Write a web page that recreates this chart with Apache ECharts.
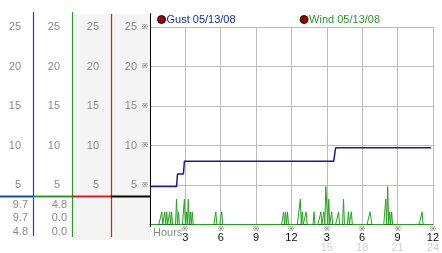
<!DOCTYPE html>
<html><head><meta charset="utf-8">
<script src="https://cdn.jsdelivr.net/npm/echarts@6/dist/echarts.min.js"></script>
<style>html,body{margin:0;padding:0;background:#fff}#c{width:442px;height:253px}</style>
</head><body><div id="c"></div>
<script>
// ---- data ----
const seriesNames = ['Gust 05/13/08', 'Wind 05/13/08'];
const yTicks = [0, 5, 10, 15, 20, 25];
const xTickHours = [0, 3, 6, 9, 12, 15, 18, 21, 24];
// Gust (minutes since midnight, value)
const gustMinutes = [0, 135, 140, 170, 175, 935, 945, 1430];
const gustValues  = [4.8, 4.8, 6.4, 6.4, 8.0, 8.0, 9.7, 9.7];
// Wind: non-zero 5-minute samples (minutes, value); all other samples are 0
const windMinutes = [60, 75, 85, 100, 110, 135, 145, 175, 185, 195, 205, 215, 335, 365,
  680, 690, 700, 765, 775, 795, 835, 870, 885, 895, 900, 910, 925, 960, 985, 1010, 1025,
  1120, 1125, 1195, 1200, 1210, 1220, 1230, 1385];
const windValues = [1.6, 1.6, 1.6, 1.6, 1.6, 3.2, 1.6, 3.2, 1.6, 3.2, 1.6, 1.6, 1.6, 1.6,
  1.6, 1.6, 1.6, 3.2, 1.6, 1.6, 1.6, 1.6, 1.6, 4.8, 4.8, 3.2, 1.6, 1.6, 3.2, 1.6, 1.6,
  1.6, 1.6, 1.6, 3.2, 4.8, 1.6, 1.6, 1.6];
const windSampleStep = 5, windLastMinute = 1435;
const gustStats = ['9.7', '9.7', '4.8'];
const windStats = ['4.8', '0.0', '0.0'];

// ---- build ----
const gustData = gustMinutes.map((m, i) => [m / 60, gustValues[i]]);
const windMap = {};
windMinutes.forEach((m, i) => { windMap[m] = windValues[i]; });
const windData = [];
for (let m = 0; m <= windLastMinute; m += windSampleStep) windData.push([m / 60, windMap[m] || 0]);

const FONT = 'Liberation Sans, Arial, sans-serif';
const GRAY = '#8a8a8a';
const BLUE = '#1646c8', GREEN = '#2a9a22', RED = '#d42020';

function sideAxis(offset) {
  return {
    type: 'value', min: yTicks[0], max: yTicks[yTicks.length - 1], interval: 5,
    position: 'left', offset: offset,
    axisLine: { show: false }, axisTick: { show: false }, splitLine: { show: false },
    axisLabel: { margin: 12, color: GRAY, fontFamily: FONT, fontSize: 11,
      formatter: v => v === 0 ? '' : String(v) }
  };
}

const chart = echarts.init(document.getElementById('c'), null, { renderer: 'canvas' });
chart.setOption({
  animation: false,
  backgroundColor: '#fff',
  grid: { left: 150, right: 4, top: 27, bottom: 26, containLabel: false },
  legend: {
    left: 157, top: 14, padding: 0, itemGap: 64, itemWidth: 8, itemHeight: 8, icon: 'circle',
    itemStyle: { color: '#a00000', borderColor: '#111', borderWidth: 1 },
    textStyle: { fontFamily: FONT, fontSize: 11, padding: [0, 0, 0, -4] },
    data: [
      { name: seriesNames[0], textStyle: { color: '#1b2fa0' } },
      { name: seriesNames[1], textStyle: { color: GREEN } }
    ]
  },
  xAxis: {
    type: 'value', min: 0, max: 24, interval: 3,
    axisLine: { show: true, lineStyle: { color: '#1f6a1f', width: 1 } },
    axisTick: { show: false },
    splitLine: { show: true, lineStyle: { color: '#bdbdbd', width: 1 } },
    axisLabel: {
      margin: 1, showMaxLabel: true, fontFamily: FONT,
      formatter: v => {
        if (v === 0) return '';
        if (v <= 12) return '{m|※}\n{b|' + v + '}';
        return '{m|※}\n{b|' + (v - 12) + '}\n{g|' + v + '}';
      },
      rich: {
        m: { fontSize: 7, lineHeight: 7, color: '#333', fontFamily: FONT },
        b: { fontSize: 11, lineHeight: 10, color: '#111', fontFamily: FONT },
        g: { fontSize: 11, lineHeight: 10, color: '#d0d0d0', fontFamily: FONT }
      }
    }
  },
  yAxis: [
    {
      type: 'value', min: 0, max: 25, interval: 5, position: 'left', offset: 0,
      axisLine: { show: true, lineStyle: { color: '#000', width: 1 } },
      axisTick: { show: false },
      splitLine: { show: true, lineStyle: { color: '#bdbdbd', width: 1 } },
      axisLabel: {
        margin: 2, fontFamily: FONT,
        formatter: v => v === 0 ? '' : '{v|' + v + '}{m|※}',
        rich: {
          v: { fontSize: 11, color: GRAY, fontFamily: FONT, padding: [0, 5, 0, 0] },
          m: { fontSize: 7, color: '#333', fontFamily: FONT }
        }
      }
    },
    sideAxis(39), sideAxis(78), sideAxis(117)
  ],
  graphic: [
    { type: 'rect', z: -10, shape: { x: 72, y: 14, width: 39, height: 226 }, style: { fill: '#f4f4f4' } },
    { type: 'rect', z: -10, shape: { x: 111, y: 14, width: 39, height: 226 }, style: { fill: '#f4f4f4' } },
    { type: 'line', z: 50, shape: { x1: 33.5, y1: 12, x2: 33.5, y2: 236 }, style: { stroke: BLUE, lineWidth: 1.2 } },
    { type: 'line', z: 50, shape: { x1: 72.5, y1: 12, x2: 72.5, y2: 237 }, style: { stroke: GREEN, lineWidth: 1.2 } },
    { type: 'line', z: 50, shape: { x1: 111.5, y1: 14, x2: 111.5, y2: 237 }, style: { stroke: RED, lineWidth: 1.2 } },
    { type: 'line', z: 50, shape: { x1: 150.5, y1: 13, x2: 150.5, y2: 227 }, style: { stroke: '#000', lineWidth: 1 } },
    { type: 'line', z: 51, shape: { x1: 0, y1: 196.5, x2: 33, y2: 196.5 }, style: { stroke: BLUE, lineWidth: 2 } },
    { type: 'line', z: 51, shape: { x1: 33, y1: 196.5, x2: 72, y2: 196.5 }, style: { stroke: GREEN, lineWidth: 2 } },
    { type: 'line', z: 51, shape: { x1: 72, y1: 196.5, x2: 111, y2: 196.5 }, style: { stroke: RED, lineWidth: 2 } },
    { type: 'line', z: 51, shape: { x1: 111, y1: 196.5, x2: 151, y2: 196.5 }, style: { stroke: '#000', lineWidth: 2 } },
    { type: 'text', left: 153, top: 227, style: { text: 'Hours', fill: GRAY, font: '11px ' + FONT } },
    { type: 'text', right: 442 - 28, top: 198, style: { text: gustStats.join('\n'), fill: GRAY, font: '11px ' + FONT, align: 'right', lineHeight: 13.5 } },
    { type: 'text', right: 442 - 67, top: 198, style: { text: windStats.join('\n'), fill: GRAY, font: '11px ' + FONT, align: 'right', lineHeight: 13.5 } }
  ],
  series: [
    { name: seriesNames[0], type: 'line', data: gustData, symbol: 'none', z: 4,
      lineStyle: { color: '#1a1a9c', width: 1.5 }, itemStyle: { color: '#a00000' } },
    { name: seriesNames[1], type: 'line', data: windData, symbol: 'none', z: 3,
      lineStyle: { color: '#27a21f', width: 1 }, itemStyle: { color: '#a00000' } }
  ]
});
</script></body></html>
